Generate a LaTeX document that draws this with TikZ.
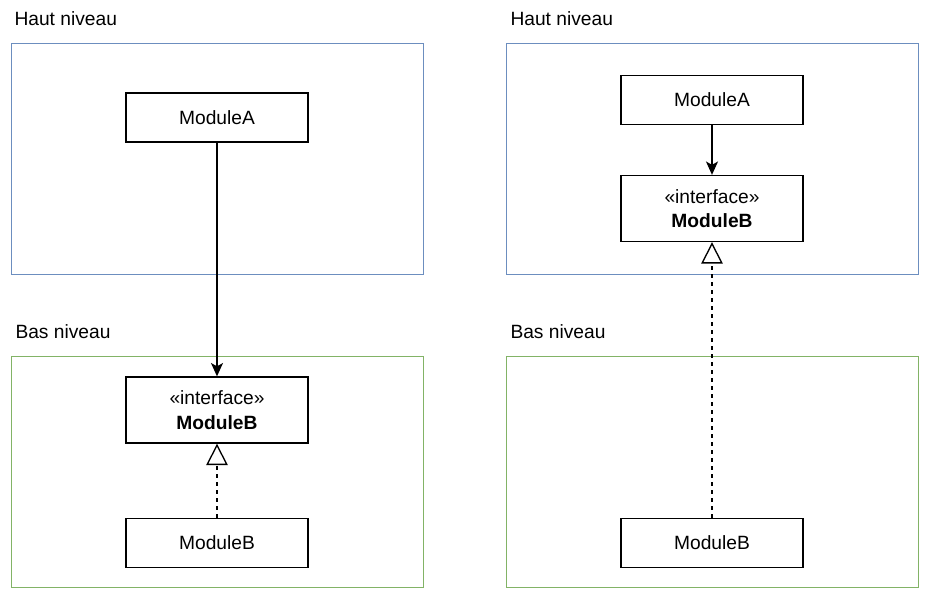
\documentclass[tikz,border=0pt]{standalone}
\usepackage{fontspec}
\setmainfont{Liberation Sans}
\usetikzlibrary{arrows.meta}

\definecolor{hautblue}{RGB}{108,142,191}
\definecolor{basgreen}{RGB}{130,179,102}

\tikzset{every picture/.style={line width=0.75pt}}
\tikzset{
  module/.style={draw,fill=white,line width=1pt,minimum width=136.5pt,minimum height=36.75pt,inner sep=0pt,font=\fontsize{14.4}{18.5}\selectfont,align=center},
  iface/.style={module,minimum height=49.5pt},
  layer/.style={anchor=west,inner sep=0pt,font=\fontsize{14.4}{17}\selectfont},
  uses/.style={line width=1pt,-{Stealth[length=10pt,width=9pt,inset=2.5pt]}},
  realizes/.style={line width=1pt,dash pattern={on 3pt off 3pt},-{Triangle[open,length=16pt,width=16pt,fill=white]}}
}

\begin{document}
\begin{tikzpicture}[x=0.75pt,y=0.75pt,yscale=-1,xscale=1]
%set diagram left start at 0, and has height of 594
\path (0,0) rectangle (926,594);

%Shape: Rectangle [id:haut left]
\draw [color=hautblue] (11,43) rectangle (423,274);
%Shape: Rectangle [id:bas left]
\draw [color=basgreen] (11,356) rectangle (423,587);
%Shape: Rectangle [id:haut right]
\draw [color=hautblue] (506,43) rectangle (918,274);
%Shape: Rectangle [id:bas right]
\draw [color=basgreen] (506,356) rectangle (918,587);

% Text Node
\node [layer] (hautL) at (14,19) {Haut niveau};
% Text Node
\node [layer] (basL) at (15,332) {Bas niveau};
% Text Node
\node [layer] (hautR) at (510,19) {Haut niveau};
% Text Node
\node [layer] (basR) at (510,332) {Bas niveau};

%Left side
\node [module] (moduleAL) at (217,117.5) {ModuleA};
\node [iface] (ifaceBL) at (217,410) {«interface»\\\textbf{ModuleB}};
\node [module] (moduleBL) at (217,543) {ModuleB};

%Right side
\node [module] (moduleAR) at (712,100) {ModuleA};
\node [iface] (ifaceBR) at (712,208.5) {«interface»\\\textbf{ModuleB}};
\node [module] (moduleBR) at (712,543) {ModuleB};

%Straight Lines
\draw [uses] (moduleAL) -- (ifaceBL);
\draw [realizes] (moduleBL) -- (ifaceBL);
\draw [uses] (moduleAR) -- (ifaceBR);
\draw [realizes] (moduleBR) -- (ifaceBR);

\end{tikzpicture}
\end{document}
